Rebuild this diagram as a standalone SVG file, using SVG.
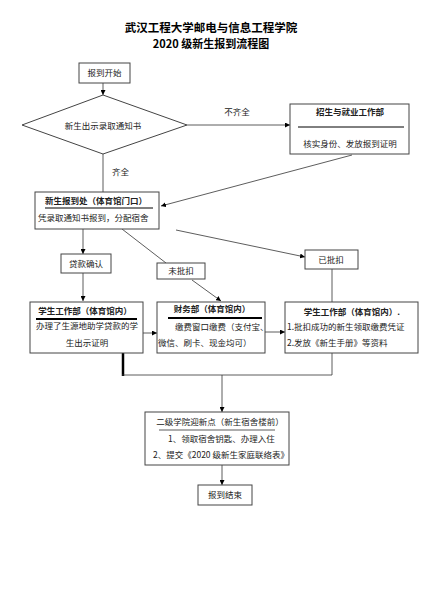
<svg xmlns="http://www.w3.org/2000/svg" width="423" height="597" viewBox="0 0 423 597">
<defs>
<marker id="arr" viewBox="0 0 10 10" refX="10" refY="5" markerWidth="5" markerHeight="5" orient="auto" markerUnits="userSpaceOnUse">
<path d="M0,0 L10,5 L0,10 z" fill="#000"/>
</marker>
<style>
text{font-family:"Noto Sans CJK SC","Liberation Sans",sans-serif;fill:#222;font-size:8.5px}
.t{font-size:11.5px;font-weight:bold;fill:#000}
.t2{font-size:11px;font-weight:bold;fill:#000}
.b{font-weight:bold}
.m{text-anchor:middle}
.box{fill:#fff;stroke:#444;stroke-width:1}
.ln{fill:none;stroke:#333;stroke-width:0.8}
.ar{fill:none;stroke:#333;stroke-width:0.8;marker-end:url(#arr)}
.ul{stroke:#000;stroke-width:1}
.ulb{stroke:#000;stroke-width:2}
</style>
</defs>
<rect width="423" height="597" fill="#fff"/>
<g id="title">
<text class="t m" x="211" y="32">武汉工程大学邮电与信息工程学院</text>
<text class="t2 m" x="211" y="48">2020 级新生报到流程图</text>
</g>
<g id="connectors">
<line class="ar" x1="103" y1="83" x2="103" y2="95"/>
<line class="ln" x1="103" y1="154" x2="103" y2="192"/>
<line class="ar" x1="187" y1="125" x2="290" y2="125"/>
<line class="ar" x1="352" y1="155" x2="161" y2="206"/>
<line class="ar" x1="83" y1="229" x2="83" y2="254"/>
<line class="ar" x1="83" y1="273" x2="83" y2="301"/>
<line class="ln" x1="122" y1="229" x2="166" y2="263"/>
<line class="ar" x1="192" y1="280" x2="221" y2="301"/>
<line class="ar" x1="176" y1="230" x2="305" y2="257"/>
<line class="ln" x1="332" y1="269" x2="332" y2="302"/>
<line class="ar" x1="143" y1="333" x2="157" y2="333"/>
<line class="ar" x1="265" y1="332" x2="285" y2="332"/>
<line stroke="#000" stroke-width="2.5" x1="123" y1="353" x2="123" y2="376"/>
<line class="ln" x1="332" y1="353" x2="332" y2="375"/>
<line class="ln" x1="122" y1="375" x2="332" y2="375"/>
<line class="ar" x1="222" y1="375" x2="222" y2="412"/>
<line class="ar" x1="222" y1="465" x2="222" y2="485"/>
<text x="112" y="175">齐全</text>
<text class="m" x="237" y="115">不齐全</text>
</g>
<g id="start">
<rect class="box" x="79" y="63" width="51" height="20"/>
<text class="m" x="104.5" y="76">报到开始</text>
</g>
<g id="decision">
<polygon class="box" points="103,95 187,125 103,154 22,125"/>
<text class="m" x="103" y="129">新生出示录取通知书</text>
</g>
<g id="admission">
<rect class="box" x="290" y="104" width="119" height="50"/>
<text class="b m" x="350" y="115">招生与就业工作部</text>
<line class="ul" x1="298" y1="127" x2="404" y2="127"/>
<text class="m" x="350" y="147">核实身份、发放报到证明</text>
</g>
<g id="register">
<rect class="box" x="35" y="192" width="124" height="37" stroke="#000"/>
<text class="b m" x="96" y="204">新生报到处（体育馆门口）</text>
<line class="ul" x1="45" y1="208" x2="153" y2="208"/>
<text x="38" y="221">凭录取通知书报到，分配宿舍</text>
</g>
<g id="loan">
<rect class="box" x="61" y="254" width="50" height="19"/>
<text class="m" x="86" y="267">贷款确认</text>
</g>
<g id="unpaid">
<rect class="box" x="157" y="263" width="48" height="16"/>
<text class="m" x="181" y="274">未批扣</text>
</g>
<g id="paid">
<rect class="box" x="305" y="250" width="53" height="19"/>
<text class="m" x="331" y="263">已批扣</text>
</g>
<g id="student-left">
<rect class="box" x="30" y="302" width="113" height="51"/>
<text class="b m" x="85" y="314">学生工作部（体育馆内）</text>
<line class="ulb" x1="36" y1="319" x2="137" y2="319"/>
<text class="m" x="87" y="329">办理了生源地助学贷款的学</text>
<text class="m" x="87" y="346">生出示证明</text>
</g>
<g id="finance">
<rect class="box" x="157" y="302" width="108" height="51"/>
<text class="b m" x="212" y="312">财务部（体育馆内）</text>
<line class="ulb" x1="168" y1="318" x2="262" y2="318"/>
<text x="175" y="330">缴费窗口缴费（支付宝、</text>
<text x="158" y="346">微信、刷卡、现金均可）</text>
</g>
<g id="student-right">
<rect class="box" x="285" y="302" width="133" height="51"/>
<text class="b m" x="352" y="315">学生工作部（体育馆内）.</text>
<text x="287" y="330">1.批扣成功的新生领取缴费凭证</text>
<text x="287" y="346">2.发放《新生手册》等资料</text>
</g>
<g id="college">
<rect class="box" x="145" y="412" width="144" height="53"/>
<text class="m" x="220" y="425">二级学院迎新点（新生宿舍楼前）</text>
<line class="ln" x1="159" y1="430" x2="275" y2="430"/>
<text x="168" y="442">1、领取宿舍钥匙、办理入住</text>
<text x="153" y="458">2、提交《2020 级新生家庭联络表》</text>
</g>
<g id="end">
<rect class="box" x="198" y="485" width="54" height="20"/>
<text class="m" x="225" y="498">报到结束</text>
</g>
</svg>
